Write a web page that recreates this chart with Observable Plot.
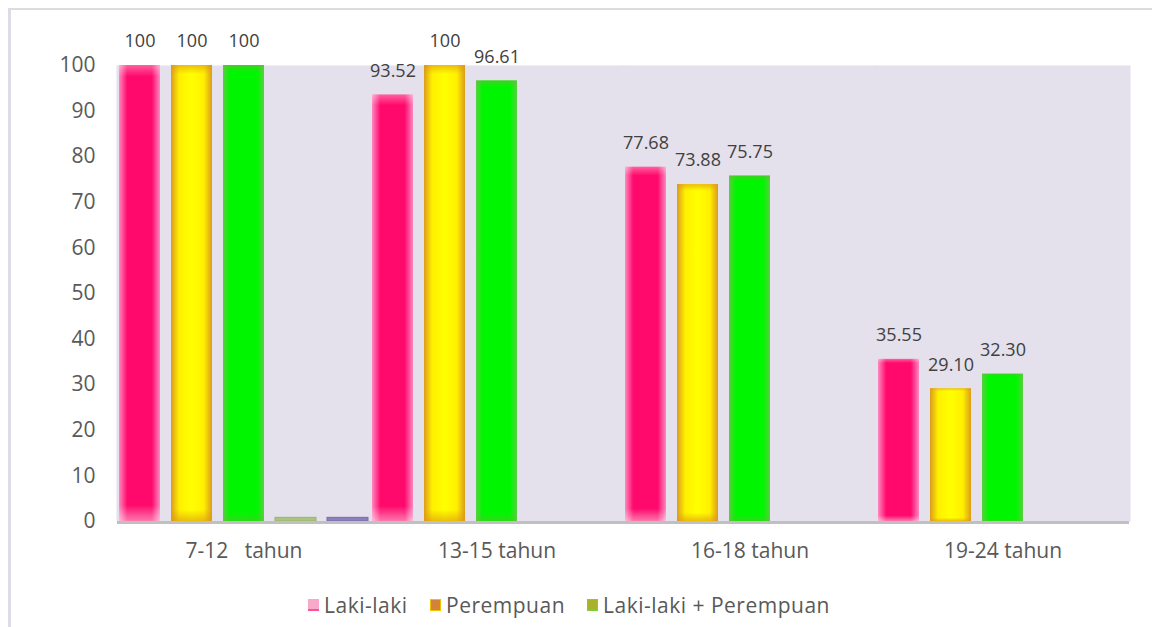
<!DOCTYPE html>
<html><head><meta charset="utf-8">
<script src="https://cdn.jsdelivr.net/npm/d3@7"></script>
<script src="https://cdn.jsdelivr.net/npm/@observablehq/plot@0.6"></script>
<style>
body{margin:0;background:#fff;font-family:"Open Sans",sans-serif;}
#wrap{position:relative;width:1152px;height:627px;overflow:hidden;background:#fff;}
#border{position:absolute;left:8px;top:8px;right:0;bottom:0;border-left:3px solid #dedce6;border-top:2px solid #dcdcdc;pointer-events:none;}
#chart{position:absolute;left:0;top:0;}
#chart svg text{white-space:pre;}
#legend{position:absolute;left:308px;top:591px;display:flex;font-size:21px;letter-spacing:0.5px;color:#595959;line-height:28px;}
.item{display:flex;align-items:center;gap:5px;}
.sw{width:11px;height:12px;box-sizing:border-box;}
</style></head><body>
<div id="wrap"><div id="chart"></div><div id="border"></div><div id="legend"></div></div>
<script>
const categories = ["7-12   tahun", "13-15 tahun", "16-18 tahun", "19-24 tahun"];
const seriesNames = ["Laki-laki", "Perempuan", "Laki-laki + Perempuan", "Seri 4", "Seri 5"];
const lakiLaki = [100, 93.52, 77.68, 35.55];
const perempuan = [100, 100, 73.88, 29.10];
const lakiPerempuan = [100, 96.61, 75.75, 32.30];
const seri4 = [0.8, 0, 0, 0];
const seri5 = [0.8, 0, 0, 0];
const yTicks = [0, 10, 20, 30, 40, 50, 60, 70, 80, 90, 100];
const legendSeries = ["Laki-laki", "Perempuan", "Laki-laki + Perempuan"];

const seriesValues = [lakiLaki, perempuan, lakiPerempuan, seri4, seri5];
const table = categories.flatMap((c, i) => seriesNames.map((s, j) => ({category: c, series: s, idx: j, value: seriesValues[j][i]})));
const labelled = table.filter(d => d.idx < 3);
const fmt = v => v === 100 ? "100" : v.toFixed(2);

const fxOpts = {fx: "category", x: "series", y: "value"};
const marks = [Plot.frame({fill: "#e4e0ec", stroke: "none", insetLeft: -1, insetRight: -1})];
for (let j = 0; j < 3; j++) {
  const data = table.filter(d => d.idx === j);
  marks.push(Plot.barY(data, {...fxOpts, fill: `url(#gh${j})`}));
  marks.push(Plot.barY(data, {...fxOpts, fill: `url(#gv${j})`}));
}
marks.push(Plot.barY(table.filter(d => d.idx === 3 && d.value > 0), {...fxOpts, fill: "#a9c47e", stroke: "#98b46c", strokeWidth: 1}));
marks.push(Plot.barY(table.filter(d => d.idx === 4 && d.value > 0), {...fxOpts, fill: "#8c7fbc", stroke: "#7a6aae", strokeWidth: 1}));
marks.push(Plot.ruleY([0], {stroke: "#c0c0c0", strokeWidth: 3, dy: 1}));
marks.push(Plot.text(labelled, {...fxOpts, text: d => fmt(d.value), dy: -24, fontSize: 18, fill: "#404040"}));

const chart = Plot.plot({
  width: 1152,
  height: 580,
  marginLeft: 117,
  marginRight: 23,
  marginTop: 65,
  marginBottom: 59,
  style: {fontFamily: "Open Sans", fontSize: "21px", color: "#595959", background: "transparent"},
  fx: {domain: categories, padding: 0, label: null, axis: "bottom", tickSize: 0, tickPadding: 22},
  x: {domain: seriesNames, axis: null, paddingInner: 0.21, paddingOuter: 0},
  y: {domain: [0, 100], ticks: yTicks, tickSize: 0, tickPadding: 22, label: null, tickFormat: d => String(d)},
  marks
});

const grads = [
  {h: [[0, "#ff88c0"], [0.2, "#ff0a6c"], [0.8, "#ff0a6c"], [1, "#ff88c0"]],
   v: [[0, "rgba(255,255,255,0.35)"], [0.025, "rgba(255,255,255,0)"], [0.965, "rgba(255,255,255,0)"], [1, "rgba(255,255,255,0.45)"]]},
  {h: [[0, "#dc9c1c"], [0.2, "#fff000"], [0.5, "#ffff00"], [0.8, "#fff000"], [1, "#dc9c1c"]],
   v: [[0, "rgba(220,150,20,0.6)"], [0.02, "rgba(220,150,20,0)"], [0.975, "rgba(220,150,20,0)"], [1, "rgba(220,150,20,0.6)"]]},
  {h: [[0, "#58d040"], [0.16, "#00f600"], [0.84, "#00f600"], [1, "#58d040"]],
   v: [[0, "rgba(110,180,60,0.6)"], [0.015, "rgba(110,180,60,0)"], [0.98, "rgba(110,180,60,0)"], [1, "rgba(110,180,60,0.4)"]]}
];
const svg = d3.select(chart);
const defs = svg.insert("defs", ":first-child");
grads.forEach((g, j) => {
  const h = defs.append("linearGradient").attr("id", `gh${j}`).attr("x1", 0).attr("x2", 1).attr("y1", 0).attr("y2", 0);
  g.h.forEach(([o, c]) => h.append("stop").attr("offset", o).attr("stop-color", c));
  const v = defs.append("linearGradient").attr("id", `gv${j}`).attr("x1", 0).attr("x2", 0).attr("y1", 0).attr("y2", 1);
  g.v.forEach(([o, c]) => v.append("stop").attr("offset", o).attr("stop-color", c));
});
document.getElementById("chart").appendChild(chart);

const swatches = [
  {fill: "#f8a8c8", border: "border-bottom:2px solid #ff5098", width: 122},
  {fill: "#d4813a", border: "border:1px solid #f2c200", width: 157},
  {fill: "#a8b22c", border: "border:1px solid #7ad23a", width: null}
];
const legend = d3.select("#legend");
legendSeries.forEach((s, i) => {
  const it = legend.append("div").attr("class", "item");
  if (swatches[i].width) it.style("width", swatches[i].width + "px");
  it.append("div").attr("class", "sw").attr("style", `background:${swatches[i].fill};${swatches[i].border}`);
  it.append("span").text(s);
});
</script>
</body></html>
